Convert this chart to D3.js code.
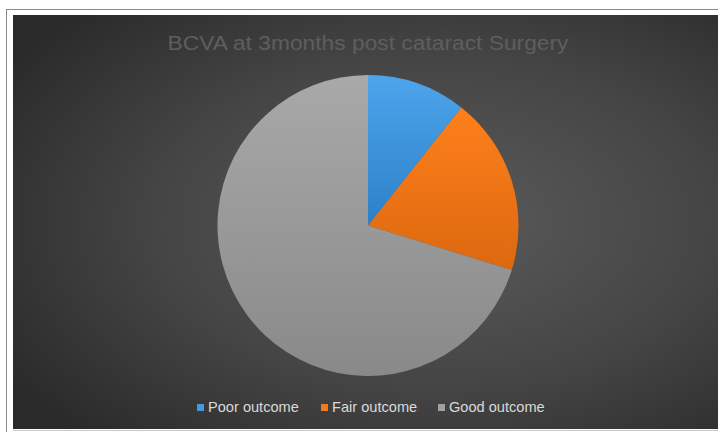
<!DOCTYPE html>
<html><head><meta charset="utf-8">
<script src="https://cdn.jsdelivr.net/npm/d3@7"></script>
<style>html,body{margin:0;padding:0;background:#fff;}svg{display:block;}</style>
</head><body>
<script>
const title = "BCVA at 3months post cataract Surgery";
const categories = ["Poor outcome", "Fair outcome", "Good outcome"];
const values = [5, 9, 33];
const colorsTop = ["#4ea5ec", "#ff801c", "#a9a9a9"];
const colorsBottom = ["#2c80c8", "#dc680f", "#898989"];

const W = 718, H = 432;
const svg = d3.select("body").append("svg").attr("width", W).attr("height", H);
const defs = svg.append("defs");

const bg = defs.append("radialGradient").attr("id", "bg")
  .attr("cx", 0.6).attr("cy", 0.5).attr("r", 0.72).attr("fx", 0.6).attr("fy", 0.5);
bg.append("stop").attr("offset", 0).attr("stop-color", "#5b5b5b");
bg.append("stop").attr("offset", 0.55).attr("stop-color", "#454545");
bg.append("stop").attr("offset", 1).attr("stop-color", "#2a2a2a");

categories.forEach((c, i) => {
  const g = defs.append("linearGradient").attr("id", "g" + i)
    .attr("x1", 0).attr("y1", 0).attr("x2", 0).attr("y2", 1);
  g.append("stop").attr("offset", 0).attr("stop-color", colorsTop[i]);
  g.append("stop").attr("offset", 1).attr("stop-color", colorsBottom[i]);
});

// outer frame
svg.append("rect").attr("x", 6.5).attr("y", 9.5).attr("width", W).attr("height", H)
  .attr("fill", "#fff").attr("stroke", "#8a8a8a");
svg.append("rect").attr("x", 13).attr("y", 15).attr("width", W - 13).attr("height", 414)
  .attr("fill", "url(#bg)");
svg.append("line").attr("x1", 13).attr("x2", W).attr("y1", 430.5).attr("y2", 430.5)
  .attr("stroke", "#c8c8c8");

svg.append("text").attr("x", 368).attr("y", 49.5).attr("text-anchor", "middle")
  .attr("font-family", "Liberation Sans, Arial, sans-serif").attr("font-size", 20)
  .attr("textLength", 401).attr("lengthAdjust", "spacingAndGlyphs")
  .attr("fill", "#5e5e5e").text(title);

const cx = 368, cy = 225.5, r = 150.5;
const pie = d3.pie().sort(null).value(d => d)(values);
const arc = d3.arc().innerRadius(0).outerRadius(r);
svg.append("g").attr("transform", `translate(${cx},${cy})`)
  .selectAll("path").data(pie).join("path")
  .attr("d", arc).attr("fill", (d, i) => `url(#g${i})`);

// legend
const legX = [197, 321, 438];
const lg = svg.append("g");
categories.forEach((c, i) => {
  lg.append("rect").attr("x", legX[i]).attr("y", 404).attr("width", 7).attr("height", 7)
    .attr("fill", colorsTop[i] === "#a9a9a9" ? "#a0a0a0" : d3.interpolateRgb(colorsTop[i], colorsBottom[i])(0.3));
  lg.append("text").attr("x", legX[i] + 11).attr("y", 412.3)
    .attr("font-family", "Liberation Sans, Arial, sans-serif").attr("font-size", 14.6)
    .attr("fill", "#d9d9d9").text(c);
});
</script>
</body></html>
